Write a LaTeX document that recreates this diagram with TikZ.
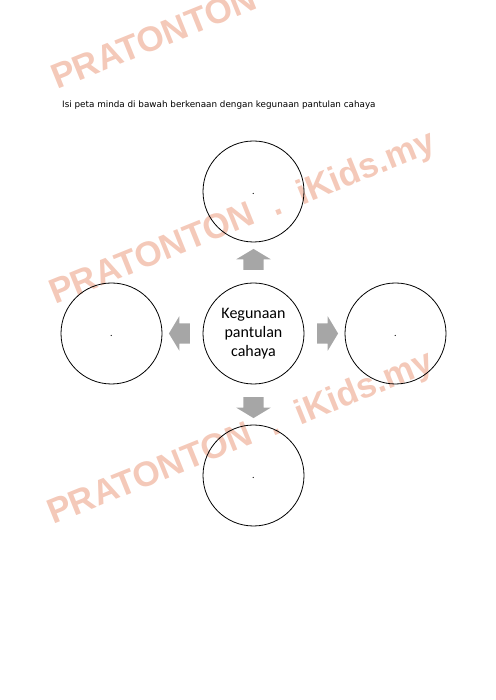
\documentclass[tikz,border=0pt]{standalone}
\usepackage{fontspec}
\setmainfont{Carlito}
\newfontfamily\komik{DejaVu Sans}
\newfontfamily\tanda{Liberation Sans}
\usetikzlibrary{shapes,arrows,positioning,calc}
\definecolor{merahjambu}{RGB}{244,201,185}
\definecolor{kelabu}{RGB}{166,166,166}
\tikzstyle{bulatan} = [draw=black, circle, line width=0.8pt, minimum size=101pt, inner sep=0pt, font=\normalsize, text height=7pt, text depth=0pt]
\tikzstyle{pusatnode} = [draw=black, circle, line width=0.8pt, minimum size=101pt, inner sep=0pt, align=center, font=\fontsize{16}{19}\selectfont]
\tikzstyle{panah} = [single arrow, fill=kelabu, draw=none, inner xsep=0pt, inner ysep=10pt, text height=0pt, text depth=0pt, minimum height=21pt, single arrow head extend=7pt, single arrow tip angle=118]
\tikzstyle{tandaair} = [anchor=base west, rotate=22, inner sep=0pt, text=merahjambu, font=\tanda\fontsize{35}{35}\selectfont\bfseries]

\begin{document}
\begin{tikzpicture}[x=1pt, y=1pt, node distance=142pt]
    \useasboundingbox (0,0) rectangle (495,700);
    \clip (0,0) rectangle (495,700);

    % watermark
    \node[tandaair] (tanda1) at (57,610) {PRATONTON~~.~~iKids.my};
    \node[tandaair] (tanda2) at (55,395) {PRATONTON~~.~~iKids.my};
    \node[tandaair] (tanda3) at (53,175) {PRATONTON~~.~~iKids.my};

    % arahan
    \node[anchor=base west, inner sep=0pt, font=\komik\fontsize{8.8}{10}\selectfont] (arahan) at (62,592) {Isi peta minda di bawah berkenaan dengan kegunaan pantulan cahaya};

    % peta minda
    \node[pusatnode] (pusat) at (253.5,366.5) {Kegunaan\\pantulan\\cahaya};
      \node[bulatan] (atas) [above of=pusat] {.};
      \node[bulatan] (bawah) [below of=pusat] {.};
      \node[bulatan] (kiri) [left of=pusat] {.};
      \node[bulatan] (kanan) [right of=pusat] {.};

    % anak panah
    \path (pusat) -- (atas) node[midway, panah, rotate=90] (panahatas) {};
    \path (pusat) -- (bawah) node[midway, panah, rotate=270] (panahbawah) {};
    \path (pusat) -- (kiri) node[midway, panah, rotate=180] (panahkiri) {};
    \path (pusat) -- (kanan) node[midway, panah] (panahkanan) {};
\end{tikzpicture}
\end{document}
